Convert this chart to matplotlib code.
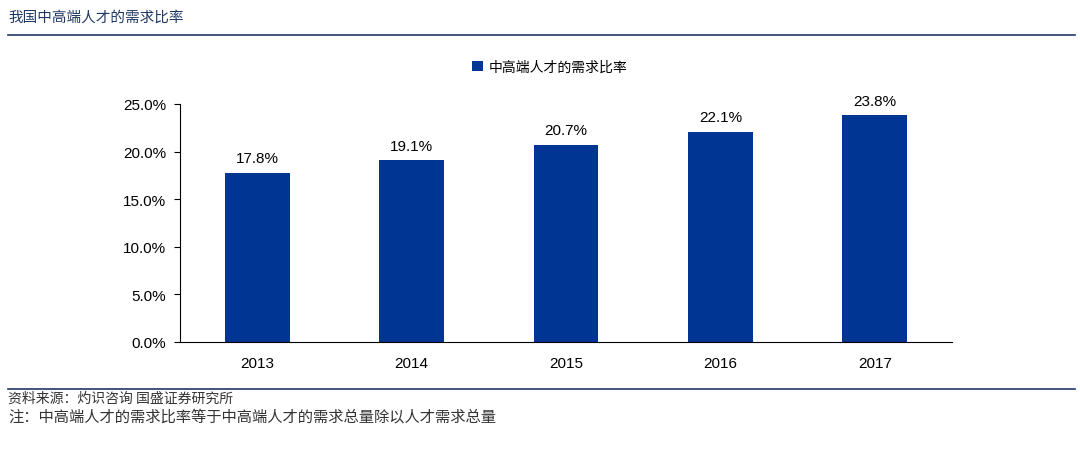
import matplotlib
matplotlib.use("Agg")
import matplotlib.pyplot as plt
from matplotlib.lines import Line2D

plt.rcParams['font.family'] = ['Noto Sans CJK SC', 'DejaVu Sans']

years = ["2013", "2014", "2015", "2016", "2017"]
ratios = [17.8, 19.1, 20.7, 22.1, 23.8]
yticks = [0, 5, 10, 15, 20, 25]
series_name = "中高端人才的需求比率"
title = "我国中高端人才的需求比率"
source = "资料来源：灼识咨询 国盛证券研究所"
note = "注：中高端人才的需求比率等于中高端人才的需求总量除以人才需求总量"

W, H = 1080, 456
fig = plt.figure(figsize=(W/100, H/100), dpi=100)
ax = fig.add_axes([180/W, 1-343/H, (952-180)/W, (343-105)/H])
color = "#003594"
x = range(len(years))
bars = ax.bar(x, ratios, width=0.42, color=color, label=series_name)
for xi, v in zip(x, ratios):
    ax.text(xi, v + 0.8, f"{v:.1f}%", ha='center', va='bottom', fontsize=11, family='Liberation Sans')
ax.set_xlim(-0.5, 4.5)
ax.set_ylim(0, 25)
ax.set_yticks(yticks)
ax.set_yticklabels([f"{t:.1f}%" for t in yticks], family='Liberation Sans', fontsize=11)
ax.set_xticks(list(x))
ax.set_xticklabels(years, family='Liberation Sans', fontsize=11)
for s in ['top', 'right']:
    ax.spines[s].set_visible(False)
ax.spines['left'].set_color('black')
ax.spines['bottom'].set_color('black')
ax.tick_params(axis='x', length=0, pad=10)
ax.tick_params(axis='y', length=4, direction='out', pad=6)
leg = fig.legend(handles=[bars], labels=[series_name], loc='center', bbox_to_anchor=(550/W, 1-68/H),
                 frameon=False, fontsize=10, handlelength=0.8, handleheight=0.8, handletextpad=0.4)

fig.text(8/W, 1-18/H, title, fontsize=10.5, style='italic', color='#1f3864', va='center')
fig.add_artist(Line2D([8/W, 1075/W], [1-36/H, 1-36/H], color='#1f3864', lw=1.2))
fig.add_artist(Line2D([8/W, 1075/W], [1-390/H, 1-390/H], color='#1f3864', lw=1.2))
fig.text(8/W, 1-399/H, source, fontsize=10, style='italic', color='#333333', va='center')
fig.text(8/W, 1-417/H, note, fontsize=11, color='#333333', va='center')
fig.savefig("out.png", dpi=100)
